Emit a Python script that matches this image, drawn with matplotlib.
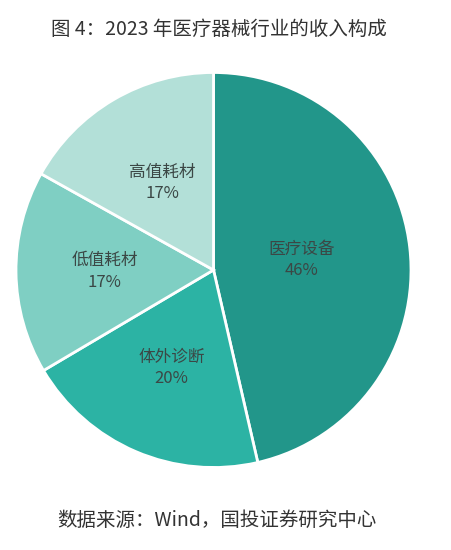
import matplotlib
matplotlib.use("Agg")
import matplotlib.pyplot as plt

plt.rcParams['font.family'] = ['Noto Sans CJK SC', 'DejaVu Sans']

title = "图 4：2023 年医疗器械行业的收入构成"
source = "数据来源：Wind，国投证券研究中心"
categories = ["医疗设备", "体外诊断", "低值耗材", "高值耗材"]
values = [46.4, 20.1, 16.6, 16.9]
colors = ["#22968a", "#2cb3a4", "#7fcfc3", "#b3e0d8"]
label_dist = [0.45, 0.54, 0.55, 0.51]

W, H = 451, 550
fig = plt.figure(figsize=(W / 100, H / 100), dpi=100)
fig.patch.set_facecolor("white")

cx, cy, r = 213.5, 270.0, 197.5
ax = fig.add_axes([(cx - r) / W, (H - cy - r) / H, 2 * r / W, 2 * r / H])

wedges, texts, autotexts = ax.pie(
    values, colors=colors, startangle=90, counterclock=False,
    autopct="%.0f%%", pctdistance=0.5,
    wedgeprops=dict(edgecolor="white", linewidth=2.0),
    textprops=dict(fontsize=12, color="#3b4745"),
)
for t, lab, d in zip(autotexts, categories, label_dist):
    x, y = t.get_position()
    t.set_position((x / 0.5 * d, y / 0.5 * d))
    t.set_text(f"{lab}\n{t.get_text()}")
    t.set_linespacing(1.35)
    t.set_ha("center")
    t.set_va("center")

ax.set_xlim(-1, 1)
ax.set_ylim(-1, 1)
ax.set_aspect("auto")
ax.axis("off")

fig.text(218.5 / W, 1 - 29 / H, title, ha="center", va="center",
         fontsize=14, color="#333333")
fig.text(217 / W, 1 - 520 / H, source, ha="center", va="center",
         fontsize=14, color="#333333")

fig.savefig("out.png", dpi=100)
